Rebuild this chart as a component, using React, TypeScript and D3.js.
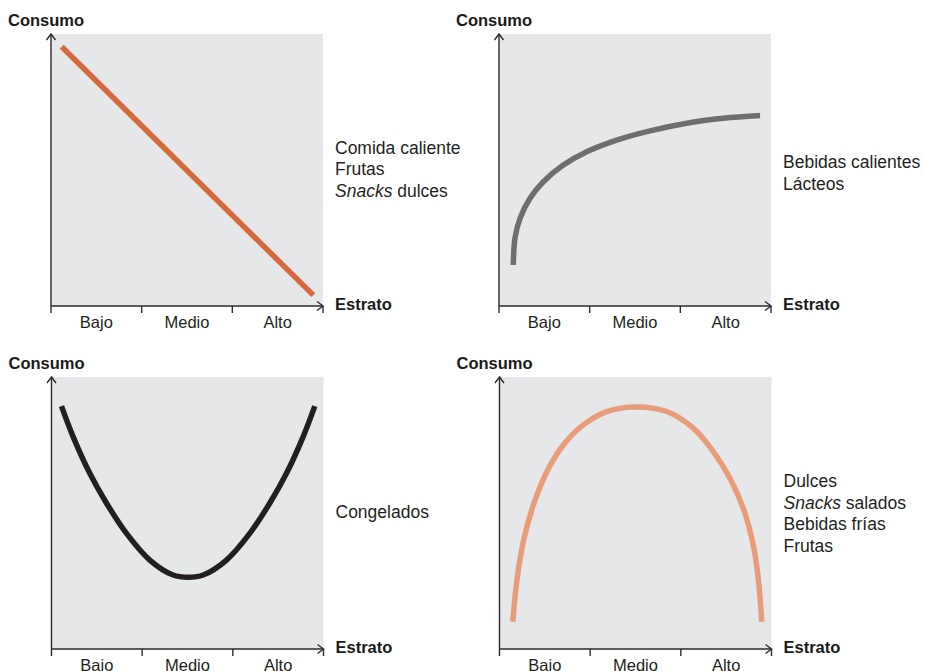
import React from "react";
import * as d3 from "d3";

// ---- Data ----
const strata = ["Bajo", "Medio", "Alto"];
const stratumBounds = [0, 1, 2, 3];
const consumoDomain = [0, 10];

// Panel 1: linear decreasing
const p1X = [0.118, 2.893];
const p1Y = [9.53, 0.4];
const p1Labels = ["Comida caliente", "Frutas", "Snacks dulces"];

// Panel 2: logarithmic-like increasing
const p2X = [0.158, 0.176, 0.232, 0.342, 0.489, 0.71, 0.967, 1.298, 1.665, 2.07, 2.474, 2.879];
const p2Y = [1.51, 2.49, 3.22, 3.96, 4.57, 5.18, 5.67, 6.1, 6.44, 6.72, 6.9, 7.0];
const p2Labels = ["Bebidas calientes", "Lácteos"];

// Panel 3: U-shape
const p3X = [0.11, 0.238, 0.422, 0.607, 0.827, 1.084, 1.341, 1.507, 1.673, 1.93, 2.187, 2.407, 2.592, 2.776, 2.904];
const p3Y = [8.93, 7.81, 6.46, 5.36, 4.25, 3.27, 2.72, 2.64, 2.72, 3.27, 4.25, 5.36, 6.46, 7.81, 8.93];
const p3Labels = ["Congelados"];

// Panel 4: inverted U
const p4X = [0.146, 0.19, 0.262, 0.373, 0.521, 0.704, 0.924, 1.182, 1.513, 1.844, 2.137, 2.358, 2.542, 2.689, 2.799, 2.854, 2.892];
const p4Y = [1.0, 2.47, 3.94, 5.29, 6.51, 7.5, 8.24, 8.73, 8.9, 8.73, 8.12, 7.26, 6.28, 5.17, 3.82, 2.6, 1.0];
const p4Labels = ["Dulces", "Snacks salados", "Bebidas frías", "Frutas"];

const italicWords = ["Snacks"];

// ---- Layout ----
const W = 272;
const H = 272;
const panels = [
  { left: 51, top: 34, xs: p1X, ys: p1Y, labels: p1Labels, color: "#d4693b", labelBase: 153.5 },
  { left: 499, top: 34, xs: p2X, ys: p2Y, labels: p2Labels, color: "#6d6e70", labelBase: 168 },
  { left: 51.5, top: 377, xs: p3X, ys: p3Y, labels: p3Labels, color: "#231f20", labelBase: 517.5 },
  { left: 499.5, top: 377, xs: p4X, ys: p4Y, labels: p4Labels, color: "#e99c79", labelBase: 487 },
];

const AXIS = "#2b2b2b";
const FONT = "'Liberation Sans', Arial, sans-serif";
const LABEL_SIZE = 17.5;

function Label({ text, x, y }: { text: string; x: number; y: number }) {
  const first = text.split(" ")[0];
  if (italicWords.includes(first)) {
    return (
      <text x={x} y={y} fontSize={LABEL_SIZE} fill="#231f20" fontFamily={FONT}>
        <tspan fontStyle="italic">{first}</tspan>
        <tspan>{text.slice(first.length)}</tspan>
      </text>
    );
  }
  return (
    <text x={x} y={y} fontSize={LABEL_SIZE} fill="#231f20" fontFamily={FONT}>
      {text}
    </text>
  );
}

function Panel({ p }: { p: (typeof panels)[number] }) {
  const x = d3.scaleLinear().domain([0, 3]).range([p.left, p.left + W]);
  const y = d3.scaleLinear().domain(consumoDomain).range([p.top + H, p.top]);
  const pts: [number, number][] = p.xs.map((v, i) => [v, p.ys[i]]);
  const line = d3
    .line<[number, number]>()
    .x((d) => x(d[0]))
    .y((d) => y(d[1]))
    .curve(pts.length > 2 ? d3.curveCatmullRom.alpha(0.5) : d3.curveLinear);
  const x0 = x(0);
  const x3 = x(3);
  const yb = y(0);
  const yt = y(10);
  return (
    <g>
      <rect x={x0} y={yt} width={x3 - x0} height={yb - yt} fill="#e6e7e8" />
      <path d={line(pts) || ""} fill="none" stroke={p.color} strokeWidth={5.5} strokeLinecap="butt" strokeLinejoin="round" />
      {/* axes */}
      <line x1={x0} y1={yb + 7} x2={x0} y2={yt} stroke={AXIS} strokeWidth={1.4} />
      <polyline points={`${x0 - 4.5},${yt + 6} ${x0},${yt} ${x0 + 4.5},${yt + 6}`} fill="none" stroke={AXIS} strokeWidth={1.4} />
      <line x1={x0} y1={yb} x2={x3} y2={yb} stroke={AXIS} strokeWidth={1.4} />
      <polyline points={`${x3 - 6},${yb - 4.5} ${x3},${yb} ${x3 - 6},${yb + 4.5}`} fill="none" stroke={AXIS} strokeWidth={1.4} />
      {stratumBounds.slice(1).map((b) => (
        <line key={b} x1={x(b)} y1={yb} x2={x(b)} y2={yb + 7} stroke={AXIS} strokeWidth={1.4} />
      ))}
      {strata.map((s, i) => (
        <text key={s} x={x(i + 0.5)} y={yb + 22} textAnchor="middle" fontSize={16.5} fill="#231f20" fontFamily={FONT}>
          {s}
        </text>
      ))}
      <text x={x0 - 43} y={yt - 8} fontSize={16.5} fontWeight="bold" fill="#1a1a1a" fontFamily={FONT}>
        Consumo
      </text>
      <text x={x3 + 12} y={yb + 4} fontSize={16.5} fontWeight="bold" fill="#1a1a1a" fontFamily={FONT}>
        Estrato
      </text>
      {p.labels.map((l, i) => (
        <Label key={l + i} text={l} x={x3 + 12} y={p.labelBase + i * 21.5} />
      ))}
    </g>
  );
}

export default function App() {
  return (
    <svg width={925} height={671} style={{ position: "absolute", left: 0, top: 0, background: "#fff" }}>
      {panels.map((p, i) => (
        <Panel key={i} p={p} />
      ))}
    </svg>
  );
}
